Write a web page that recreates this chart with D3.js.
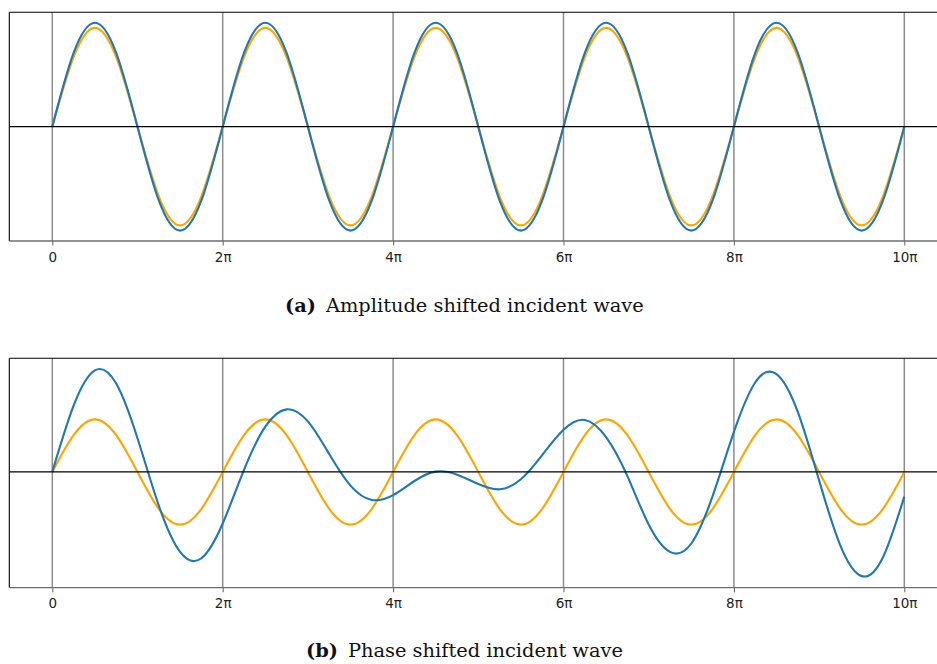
<!DOCTYPE html>
<html>
<head>
<meta charset="utf-8">
<script src="https://cdn.jsdelivr.net/npm/d3@7"></script>
<style>
  body { margin: 0; background: #fff; }
  svg { display: block; }
</style>
</head>
<body>
<svg width="937" height="664"></svg>
<script>
// x ticks, in multiples of pi
const tickMultiples = [0, 2, 4, 6, 8, 10];
const tickLabels = ["0", "2π", "4π", "6π", "8π", "10π"];

// curves are sampled every pi/4 from 0 to 10pi (41 samples)
const sampleStep = Math.PI / 4;

// (a) amplitude shifted
const ampIncident = [
  0, 0.67, 0.95, 0.67, 0, -0.67, -0.95, -0.67,
  0, 0.67, 0.95, 0.67, 0, -0.67, -0.95, -0.67,
  0, 0.67, 0.95, 0.67, 0, -0.67, -0.95, -0.67,
  0, 0.67, 0.95, 0.67, 0, -0.67, -0.95, -0.67,
  0, 0.67, 0.95, 0.67, 0, -0.67, -0.95, -0.67,
  0
];
const ampShifted = [
  0, 0.71, 1, 0.71, 0, -0.71, -1, -0.71,
  0, 0.71, 1, 0.71, 0, -0.71, -1, -0.71,
  0, 0.71, 1, 0.71, 0, -0.71, -1, -0.71,
  0, 0.71, 1, 0.71, 0, -0.71, -1, -0.71,
  0, 0.71, 1, 0.71, 0, -0.71, -1, -0.71,
  0
];

// (b) phase shifted
const phaseIncident = [
  0, 0.35, 0.5, 0.35, 0, -0.35, -0.5, -0.35,
  0, 0.35, 0.5, 0.35, 0, -0.35, -0.5, -0.35,
  0, 0.35, 0.5, 0.35, 0, -0.35, -0.5, -0.35,
  0, 0.35, 0.5, 0.35, 0, -0.35, -0.5, -0.35,
  0, 0.35, 0.5, 0.35, 0, -0.35, -0.5, -0.35,
  0
];
const phaseShifted = [
  0, 0.63, 0.965, 0.84, 0.32, -0.32, -0.76, -0.82,
  -0.49, 0.02, 0.43, 0.595, 0.48, 0.17, -0.13, -0.266,
  -0.22, -0.086, 0.003, -0.026, -0.115, -0.165, -0.07, 0.16,
  0.40, 0.494, 0.33, -0.04, -0.50, -0.76, -0.68, -0.23,
  0.38, 0.85, 0.93, 0.57, -0.08, -0.70, -0.99, -0.81,
  -0.234
];

const blue = "#1f77b4";
const orange = "orange";

const svg = d3.select("svg");

const x = d3.scaleLinear()
  .domain([0, 10 * Math.PI])
  .range([52.3, 904.3]);

const panels = [
  { top: 12.3, bottom: 241, yDomain: [-1.1, 1.1],
    incident: ampIncident, shifted: ampShifted,
    tag: "(a)", caption: "Amplitude shifted incident wave", capX: 285, capY: 311.5 },
  { top: 358.3, bottom: 587.7, yDomain: [-1.1, 1.08],
    incident: phaseIncident, shifted: phaseShifted,
    tag: "(b)", caption: "Phase shifted incident wave", capX: 306, capY: 657 }
];

panels.forEach(p => {
  const g = svg.append("g");
  const left = 9.3, right = 949;

  const y = d3.scaleLinear()
    .domain(p.yDomain)
    .range([p.bottom, p.top]);

  // vertical grid lines
  g.selectAll("line.grid")
    .data(tickMultiples)
    .enter().append("line")
    .attr("class", "grid")
    .attr("x1", d => x(d * Math.PI)).attr("x2", d => x(d * Math.PI))
    .attr("y1", p.top).attr("y2", p.bottom)
    .attr("stroke", "#8c8c8c")
    .attr("stroke-width", 1.5);

  const line = d3.line()
    .x((d, i) => x(i * sampleStep))
    .y(d => y(d))
    .curve(d3.curveNatural);

  g.append("path")
    .attr("d", line(p.incident))
    .attr("fill", "none")
    .attr("stroke", orange)
    .attr("stroke-width", 2.1);

  g.append("path")
    .attr("d", line(p.shifted))
    .attr("fill", "none")
    .attr("stroke", blue)
    .attr("stroke-width", 2.1);

  // zero line
  g.append("line")
    .attr("x1", left).attr("x2", right)
    .attr("y1", y(0)).attr("y2", y(0))
    .attr("stroke", "#000")
    .attr("stroke-width", 1.3);

  // spines: top and left black, bottom gray
  g.append("line")
    .attr("x1", left).attr("x2", right)
    .attr("y1", p.top).attr("y2", p.top)
    .attr("stroke", "#000").attr("stroke-width", 1.1);
  g.append("line")
    .attr("x1", left).attr("x2", left)
    .attr("y1", p.top).attr("y2", p.bottom)
    .attr("stroke", "#000").attr("stroke-width", 1.1);

  const axis = d3.axisBottom(x)
    .tickValues(tickMultiples.map(k => k * Math.PI))
    .tickFormat((d, i) => tickLabels[i])
    .tickSize(4.5)
    .tickPadding(6.5);

  const ax = g.append("g")
    .attr("transform", `translate(0,${p.bottom})`)
    .call(axis);
  ax.select(".domain").remove();
  ax.append("line")
    .attr("x1", left).attr("x2", right)
    .attr("stroke", "#6e6e6e").attr("stroke-width", 1.3);
  ax.selectAll(".tick line").attr("stroke", "#6e6e6e").attr("stroke-width", 1.1);
  ax.selectAll(".tick text")
    .attr("fill", "#222")
    .style("font-family", "'DejaVu Sans', sans-serif")
    .style("font-size", "13.5px");

  // caption
  const cap = svg.append("text")
    .attr("x", p.capX)
    .attr("y", p.capY)
    .style("font-family", "'DejaVu Serif', serif")
    .style("font-size", "19.4px")
    .attr("fill", "#111");
  cap.append("tspan").style("font-weight", "bold").text(p.tag);
  cap.append("tspan").attr("dx", 10).text(p.caption);
});
</script>
</body>
</html>
